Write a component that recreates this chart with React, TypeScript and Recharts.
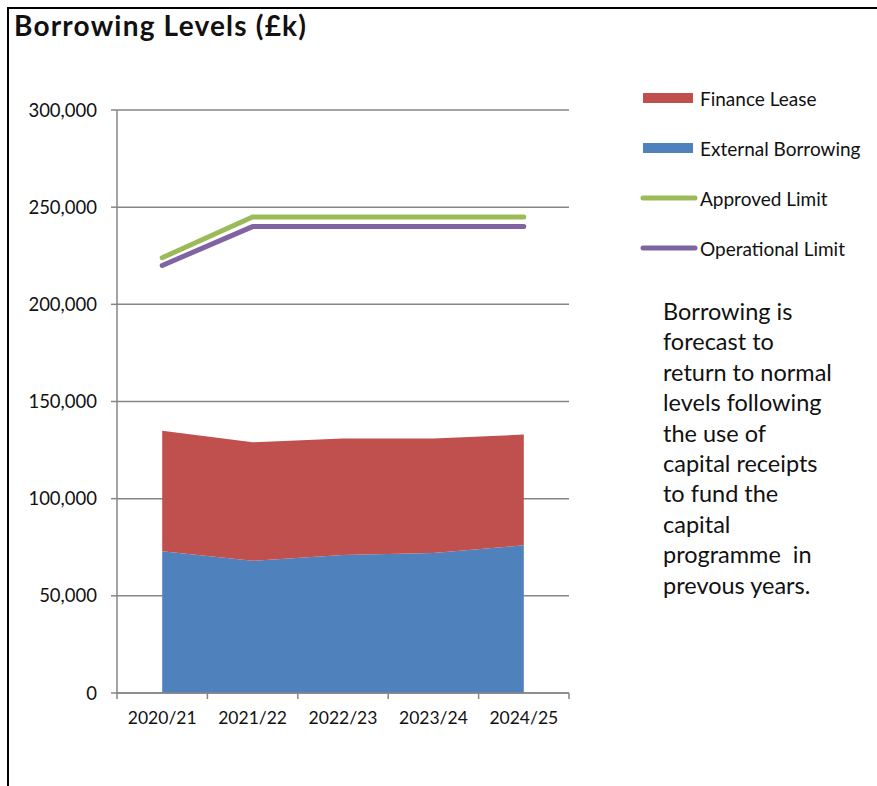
import React from 'react';
import { ComposedChart, Area, Line, XAxis, YAxis, CartesianGrid } from 'recharts';

const years = ['2020/21', '2021/22', '2022/23', '2023/24', '2024/25'];
const externalBorrowing = [73000, 68000, 71000, 72000, 76000];
const financeLease = [62000, 61000, 60000, 59000, 57000];
const approvedLimit = [224000, 245000, 245000, 245000, 245000];
const operationalLimit = [220000, 240000, 240000, 240000, 240000];
const yTicks = [0, 50000, 100000, 150000, 200000, 250000, 300000];

const data = years.map((year, i) => ({
  idx: i,
  year,
  external: externalBorrowing[i],
  lease: financeLease[i],
  approved: approvedLimit[i],
  operational: operationalLimit[i],
}));

// tick positions: labels at the category centres, tick marks between them
const xTicks: number[] = [];
for (let i = -0.5; i <= years.length - 0.5; i += 0.5) xTicks.push(i);

const FONT = 'Lato, "Open Sans", sans-serif';
const AXIS = '#868686';

const XTick = (props: any) => {
  const { x, y, payload } = props;
  const v = payload.value;
  if (Number.isInteger(v)) {
    return (
      <text x={x} y={y + 31} textAnchor="middle" fontSize={17.5} fontFamily={FONT} fill="#111">
        {years[v]}
      </text>
    );
  }
  return <line x1={x} y1={y} x2={x} y2={y + 6} stroke={AXIS} strokeWidth={1.5} />;
};

const legendItems = [
  { name: 'Finance Lease', color: '#C0504D', type: 'rect' },
  { name: 'External Borrowing', color: '#4F81BD', type: 'rect' },
  { name: 'Approved Limit', color: '#9BBB59', type: 'line' },
  { name: 'Operational Limit', color: '#8064A2', type: 'line' },
];

export default function App() {
  return (
    <div style={{ position: 'absolute', left: 0, top: 0, width: 877, height: 786, background: '#fff', fontFamily: FONT }}>
      <div style={{ position: 'absolute', left: 7, top: 7, right: 0, bottom: 0, borderTop: '2px solid #000', borderLeft: '2px solid #000' }} />
      <div style={{ position: 'absolute', left: 14, top: 8, fontSize: 28, fontWeight: 700, letterSpacing: 1.2, color: '#111' }}>
        Borrowing Levels (£k)
      </div>
      <ComposedChart
        width={877}
        height={786}
        data={data}
        margin={{ top: 110, right: 308, bottom: 53, left: 17 }}
        style={{ position: 'absolute', left: 0, top: 0 }}
      >
        <CartesianGrid vertical={false} stroke={AXIS} strokeWidth={1.5} />
        <XAxis
          dataKey="idx"
          type="number"
          domain={[-0.5, years.length - 0.5]}
          ticks={xTicks}
          interval={0}
          allowDecimals
          tickLine={false}
          tickSize={0}
          tickMargin={0}
          height={40}
          axisLine={{ stroke: AXIS, strokeWidth: 1.5 }}
          tick={<XTick />}
        />
        <YAxis
          domain={[0, 300000]}
          ticks={yTicks}
          interval={0}
          width={100}
          tickSize={6}
          tickMargin={14}
          tickLine={{ stroke: AXIS, strokeWidth: 1.5 }}
          axisLine={{ stroke: AXIS, strokeWidth: 1.5 }}
          tick={{ fontSize: 18.5, fontFamily: FONT, fill: '#111' }}
          tickFormatter={(v: number) => v.toLocaleString('en-GB')}
        />
        <Area
          type="linear"
          dataKey="external"
          stackId="a"
          fill="#4F81BD"
          fillOpacity={1}
          stroke="none"
          isAnimationActive={false}
        />
        <Area
          type="linear"
          dataKey="lease"
          stackId="a"
          fill="#C0504D"
          fillOpacity={1}
          stroke="none"
          isAnimationActive={false}
        />
        <Line
          type="linear"
          dataKey="approved"
          stroke="#9BBB59"
          strokeWidth={5}
          strokeLinecap="round"
          dot={false}
          isAnimationActive={false}
        />
        <Line
          type="linear"
          dataKey="operational"
          stroke="#8064A2"
          strokeWidth={5}
          strokeLinecap="round"
          dot={false}
          isAnimationActive={false}
        />
      </ComposedChart>
      <div style={{ position: 'absolute', left: 640, top: 73 }}>
        {legendItems.map((it) => (
          <div key={it.name} style={{ display: 'flex', alignItems: 'center', height: 50 }}>
            <svg width={60} height={12} style={{ flex: 'none' }}>
              {it.type === 'rect' ? (
                <rect x={3} y={1} width={50} height={10} fill={it.color} />
              ) : (
                <line x1={3} y1={6} x2={55} y2={6} stroke={it.color} strokeWidth={5} strokeLinecap="round" />
              )}
            </svg>
            <span style={{ fontSize: 19, color: '#111' }}>{it.name}</span>
          </div>
        ))}
      </div>
      <div style={{ position: 'absolute', left: 663, top: 296, width: 210, fontSize: 23.5, lineHeight: '30.4px', color: '#111' }}>
        Borrowing is<br />forecast to<br />return to normal<br />levels following<br />the use of<br />capital receipts<br />to fund the<br />capital<br />programme&nbsp; in<br />prevous years.
      </div>
    </div>
  );
}
